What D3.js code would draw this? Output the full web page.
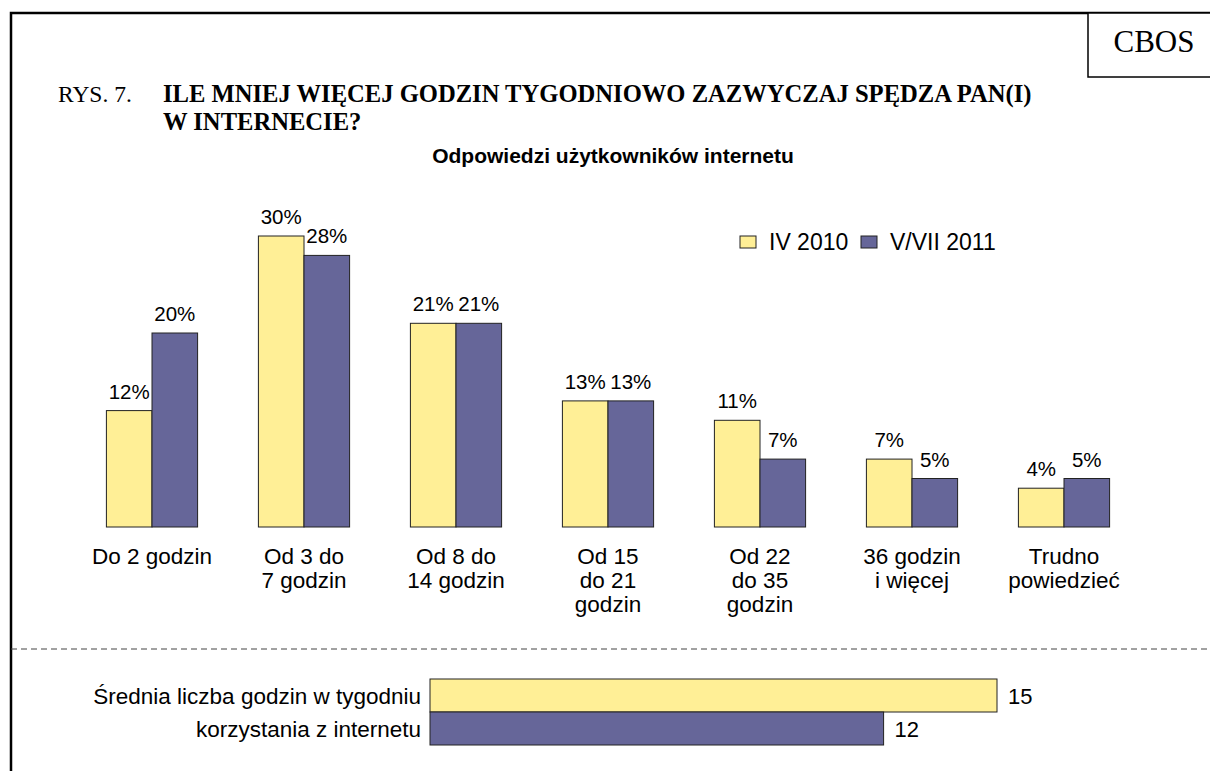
<!DOCTYPE html>
<html>
<head>
<meta charset="utf-8">
<script src="https://cdn.jsdelivr.net/npm/d3@7"></script>
<style>
body { margin: 0; background: #fff; }
svg { display: block; }
</style>
</head>
<body>
<svg width="1210" height="771"></svg>
<script>
var categories = [["Do 2 godzin"], ["Od 3 do", "7 godzin"], ["Od 8 do", "14 godzin"], ["Od 15", "do 21", "godzin"], ["Od 22", "do 35", "godzin"], ["36 godzin", "i więcej"], ["Trudno", "powiedzieć"]];
var seriesNames = ["IV 2010", "V/VII 2011"];
var values2010 = [12, 30, 21, 13, 11, 7, 4];
var values2011 = [20, 28, 21, 13, 7, 5, 5];
var avgLabel = ["Średnia liczba godzin w tygodniu", "korzystania z internetu"];
var avgValues = [15, 12];
var colors = ["#FFEF96", "#666699"];

var svg = d3.select("svg");
var font = "Arial, 'Liberation Sans', sans-serif";
var serif = "'Times New Roman', 'Liberation Serif', serif";

// frame
svg.append("path")
        .attr("d", "M11,771 V13 H1210")
        .style("fill", "none")
        .style("stroke", "black")
        .style("stroke-width", "2.5px");
svg.append("rect")
        .attr("x", 1088).attr("y", 13)
        .attr("width", 130).attr("height", 64)
        .style("fill", "white").style("stroke", "black").style("stroke-width", "1.5px");
svg.append("text").text("CBOS")
        .attr("x", 1154).attr("y", 52)
        .attr("text-anchor", "middle")
        .style("font-family", serif).style("font-size", "31px");

// titles
svg.append("text").text("RYS. 7.")
        .attr("x", 58).attr("y", 102)
        .style("font-family", serif).style("font-size", "23.5px");
svg.append("text").text("ILE MNIEJ WIĘCEJ GODZIN TYGODNIOWO ZAZWYCZAJ SPĘDZA PAN(I)")
        .attr("x", 163).attr("y", 102)
        .style("font-family", serif).style("font-size", "24.6px").style("font-weight", "bold");
svg.append("text").text("W INTERNECIE?")
        .attr("x", 163).attr("y", 130)
        .style("font-family", serif).style("font-size", "24.6px").style("font-weight", "bold");
svg.append("text").text("Odpowiedzi użytkowników internetu")
        .attr("x", 613).attr("y", 163)
        .attr("text-anchor", "middle")
        .style("font-family", font).style("font-size", "21px").style("font-weight", "bold");

// main bar chart
var x = d3.scaleBand().domain(d3.range(categories.length)).range([76, 1140]).paddingInner(0.4).paddingOuter(0.2);
var xs = d3.scaleBand().domain([0, 1]).range([0, x.bandwidth()]);
var y = d3.scaleLinear().domain([0, 30]).range([527, 236]);

var data = [];
categories.forEach(function(c, i) {
    data.push({i: i, s: 0, v: values2010[i]});
    data.push({i: i, s: 1, v: values2011[i]});
});

var bars = svg.append("g");
bars.selectAll("rect").data(data).enter().append("rect")
        .attr("x", function(d){return x(d.i) + xs(d.s);})
        .attr("y", function(d){return y(d.v);})
        .attr("width", xs.bandwidth())
        .attr("height", function(d){return y(0) - y(d.v);})
        .style("fill", function(d){return colors[d.s];})
        .style("stroke", "#222")
        .style("stroke-width", "1px");

bars.selectAll("text").data(data).enter().append("text")
        .text(function(d){return d.v + "%";})
        .attr("x", function(d){return x(d.i) + xs(d.s) + xs.bandwidth() / 2;})
        .attr("y", function(d){return y(d.v) - 12;})
        .attr("text-anchor", "middle")
        .style("font-family", font).style("font-size", "20.5px");

var catG = svg.append("g");
categories.forEach(function(lines, i) {
    var t = catG.append("text")
            .attr("text-anchor", "middle")
            .style("font-family", font).style("font-size", "22.5px");
    lines.forEach(function(l, j) {
        t.append("tspan").text(l)
                .attr("x", x(i) + x.bandwidth() / 2)
                .attr("y", 564 + j * 24);
    });
});

// legend
var legend = svg.append("g");
var legX = [740, 861];
seriesNames.forEach(function(n, i) {
    legend.append("rect")
            .attr("x", legX[i]).attr("y", 236)
            .attr("width", 16).attr("height", 12)
            .style("fill", colors[i]).style("stroke", "#222").style("stroke-width", "1px");
    legend.append("text").text(n)
            .attr("x", legX[i] + 29).attr("y", 250)
            .style("font-family", font).style("font-size", "23px");
});

// dashed separator
svg.append("line")
        .attr("x1", 11).attr("x2", 1210)
        .attr("y1", 649).attr("y2", 649)
        .style("stroke", "#444").style("stroke-width", "1px")
        .style("stroke-dasharray", "6,4");

// average hours bars
var xa = d3.scaleLinear().domain([0, 15]).range([430, 997]);
var ya = d3.scaleBand().domain([0, 1]).range([679, 745]);
var avg = svg.append("g");
avg.selectAll("rect").data(avgValues).enter().append("rect")
        .attr("x", xa(0))
        .attr("y", function(d, i){return ya(i);})
        .attr("width", function(d){return xa(d) - xa(0);})
        .attr("height", ya.bandwidth())
        .style("fill", function(d, i){return colors[i];})
        .style("stroke", "#222").style("stroke-width", "1px");
avg.selectAll("text.val").data(avgValues).enter().append("text")
        .attr("class", "val")
        .text(function(d){return d;})
        .attr("x", function(d){return xa(d) + 11;})
        .attr("y", function(d, i){return ya(i) + ya.bandwidth() / 2 + 8;})
        .style("font-family", font).style("font-size", "22px");
avgLabel.forEach(function(l, i) {
    avg.append("text").text(l)
            .attr("x", 421)
            .attr("y", ya(i) + ya.bandwidth() / 2 + 8)
            .attr("text-anchor", "end")
            .style("font-family", font).style("font-size", "22.5px");
});
</script>
</body>
</html>
